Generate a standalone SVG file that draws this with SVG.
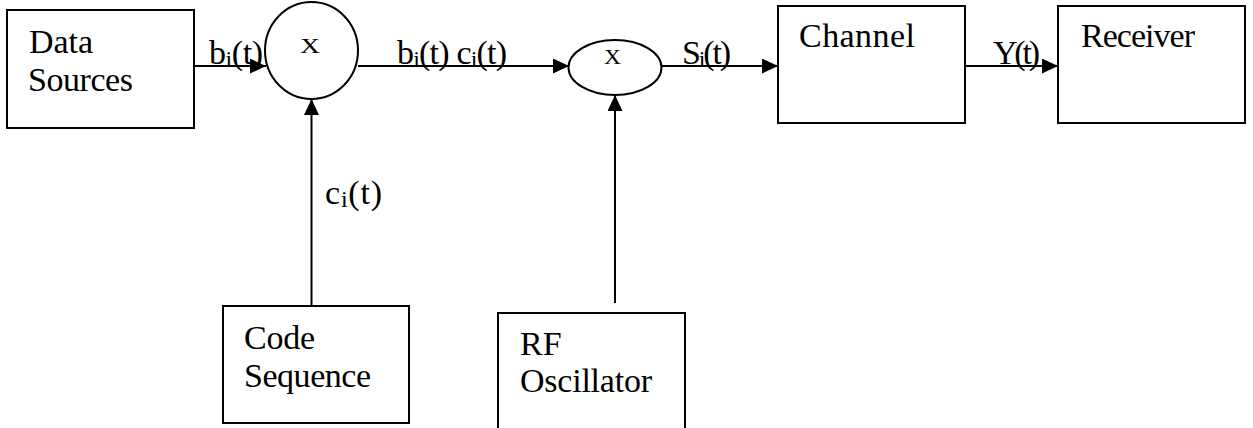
<svg xmlns="http://www.w3.org/2000/svg" width="1253" height="428" viewBox="0 0 1253 428">
  <style>
    .box { fill: #ffffff; stroke: #000000; stroke-width: 2; }
    .mix { fill: #ffffff; stroke: #000000; stroke-width: 2; }
    .wire { fill: none; stroke: #000000; stroke-width: 2; marker-end: url(#head); }
    .lbl { font-family: "Liberation Serif", "Times New Roman", serif; font-size: 34px; fill: #000000; }
    .sig { font-family: "Liberation Serif", "Times New Roman", serif; font-size: 34px; fill: #000000; }
    .sub { font-size: 24px; }
    .op { font-family: "Liberation Serif", "Times New Roman", serif; font-size: 21px; fill: #000000; }
  </style>
  <defs>
    <marker id="head" viewBox="0 0 16 15" refX="16" refY="7.5" markerWidth="16" markerHeight="15" markerUnits="userSpaceOnUse" orient="auto">
      <path d="M0,0 L16,7.5 L0,15 Z" fill="#000000"/>
    </marker>
  </defs>

  <rect width="1253" height="428" fill="#ffffff"/>

  <!-- signal paths -->
  <g id="connectors">
    <line class="wire" x1="194" y1="66" x2="266" y2="66"/>
    <line class="wire" x1="358" y1="66" x2="569" y2="66"/>
    <line class="wire" x1="662" y1="66" x2="778" y2="66"/>
    <line class="wire" x1="965" y1="66" x2="1058" y2="66"/>
    <line class="wire" x1="311.5" y1="306" x2="311.5" y2="99"/>
    <line class="wire" x1="615" y1="303" x2="615" y2="95"/>
  </g>

  <!-- signal labels -->
  <g id="signal-labels">
    <text class="sig" x="209" y="64" textLength="54">b<tspan class="sub" dy="3">i</tspan><tspan dy="-3">(t)</tspan></text>
    <text class="sig" x="397" y="64" textLength="110">b<tspan class="sub" dy="3">i</tspan><tspan dy="-3">(t) c</tspan><tspan class="sub" dy="3">i</tspan><tspan dy="-3">(t)</tspan></text>
    <text class="sig" x="682" y="64" textLength="49">S<tspan class="sub" dy="3">i</tspan><tspan dy="-3">(t)</tspan></text>
    <text class="sig" x="993" y="64" textLength="47">Y(t)</text>
    <text class="sig" x="325" y="204" textLength="57">c<tspan class="sub" dy="3">i</tspan><tspan dy="-3">(t)</tspan></text>
  </g>

  <g id="data-sources">
    <rect class="box" x="7" y="10" width="187" height="118"/>
    <text class="lbl" x="29" y="53" textLength="64">Data</text>
    <text class="lbl" x="28" y="91" textLength="105">Sources</text>
  </g>

  <g id="mixer-code">
    <ellipse class="mix" cx="311.5" cy="50.5" rx="46.5" ry="48.5"/>
    <text class="op" x="300" y="53" textLength="20" lengthAdjust="spacingAndGlyphs">X</text>
  </g>

  <g id="mixer-rf">
    <ellipse class="mix" cx="615" cy="67.5" rx="46.5" ry="27.5"/>
    <text class="op" x="604" y="64" textLength="17" lengthAdjust="spacingAndGlyphs">X</text>
  </g>

  <g id="channel">
    <rect class="box" x="778" y="6" width="187" height="117"/>
    <text class="lbl" x="799" y="47" textLength="116">Channel</text>
  </g>

  <g id="receiver">
    <rect class="box" x="1058" y="6" width="187" height="117"/>
    <text class="lbl" x="1081" y="47" textLength="114">Receiver</text>
  </g>

  <g id="code-sequence">
    <rect class="box" x="223" y="306" width="186" height="117"/>
    <text class="lbl" x="244" y="349" textLength="71">Code</text>
    <text class="lbl" x="244" y="387" textLength="127">Sequence</text>
  </g>

  <g id="rf-oscillator">
    <rect class="box" x="498" y="313" width="187" height="130"/>
    <text class="lbl" x="520" y="355">RF</text>
    <text class="lbl" x="520" y="392" textLength="132">Oscillator</text>
  </g>
</svg>
